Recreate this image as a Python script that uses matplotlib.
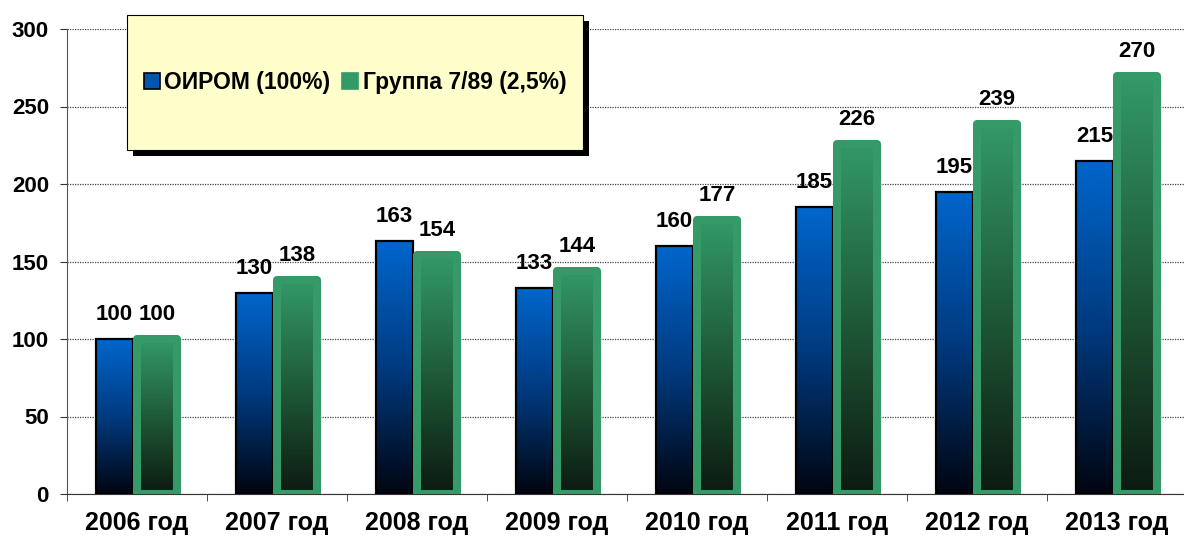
import numpy as np
import matplotlib
matplotlib.use("Agg")
import matplotlib.pyplot as plt
from matplotlib.colors import LinearSegmentedColormap
from matplotlib.patches import Rectangle, Patch

plt.rcParams["font.family"] = ["Liberation Sans", "DejaVu Sans"]
plt.rcParams["font.weight"] = "bold"

years = ["2006 год", "2007 год", "2008 год", "2009 год",
         "2010 год", "2011 год", "2012 год", "2013 год"]
oirom = [100, 130, 163, 133, 160, 185, 195, 215]
group = [100, 138, 154, 144, 177, 226, 239, 270]
series_names = ["ОИРОМ (100%)", "Группа 7/89 (2,5%)"]

BLUE_TOP, BLUE_BOT = "#0066CC", "#000510"
GREEN_EDGE, GREEN_TOP, GREEN_BOT = "#359A68", "#339966", "#0C1A10"

fig = plt.figure(figsize=(11.84, 5.37), dpi=100)
ax = fig.add_axes([67 / 1184, 1 - 494 / 537, 1120 / 1184, 465 / 537])

x = np.arange(len(years))
blue_cmap = LinearSegmentedColormap.from_list("b", [BLUE_BOT, "#003A80", BLUE_TOP])
green_cmap = LinearSegmentedColormap.from_list("g", [GREEN_BOT, "#1F5A38", GREEN_TOP])
grad = np.linspace(0, 1, 256).reshape(-1, 1)

bw, gw = 0.265, 0.285
blue_bars = ax.bar(x - 0.16, oirom, bw, facecolor="none", edgecolor="black",
                   linewidth=1.6, zorder=4)
green_bars = ax.bar(x + 0.143, group, gw, facecolor="none", edgecolor=GREEN_EDGE,
                    linewidth=5.8, joinstyle="round", zorder=6)

# gradient fills clipped to each bar
for bars, cmap, z in [(blue_bars, blue_cmap, 3), (green_bars, green_cmap, 5)]:
    for b in bars:
        x0, h, w = b.get_x(), b.get_height(), b.get_width()
        im = ax.imshow(grad, extent=(x0, x0 + w, 0, h), origin="lower",
                       aspect="auto", cmap=cmap, zorder=z)
        im.set_clip_path(b)

for xi, v in zip(x, oirom):
    ax.annotate(f"{v}", (xi - 0.16, v), xytext=(0, 10), textcoords="offset points",
                ha="center", va="bottom", fontsize=16, fontweight="bold", zorder=2)
for xi, v in zip(x, group):
    ax.annotate(f"{v}", (xi + 0.143, v), xytext=(0, 10), textcoords="offset points",
                ha="center", va="bottom", fontsize=16, fontweight="bold", zorder=7)

ax.set_xlim(-0.5, len(years) - 0.5)
ax.set_ylim(0, 300)
ax.set_yticks(range(0, 301, 50))
ax.yaxis.grid(True, color="#444444", linestyle=(0, (1, 1)), linewidth=0.9)
ax.set_axisbelow(True)

ax.set_xticks(x)
ax.set_xticklabels(years)
ax.set_xticks(np.arange(-0.5, len(years)), minor=True)
ax.tick_params(axis="x", which="major", length=0, pad=12, labelsize=18)
ax.tick_params(axis="x", which="minor", length=5, color="#333333")
ax.tick_params(axis="y", length=5, pad=8, labelsize=16, color="#333333")
for lab in ax.get_xticklabels() + ax.get_yticklabels():
    lab.set_fontweight("bold")

for s in ["top", "right"]:
    ax.spines[s].set_visible(False)
ax.spines["left"].set_color("#555555")
ax.spines["bottom"].set_color("#333333")

# legend box with shadow
lx, ly, lw, lh = 127 / 1184, 1 - 150 / 537, 456 / 1184, 135 / 537
fig.patches.append(Rectangle((lx + 6 / 1184, ly - 6 / 537), lw, lh, transform=fig.transFigure,
                             facecolor="black", edgecolor="none", zorder=8))
fig.patches.append(Rectangle((lx, ly), lw, lh, transform=fig.transFigure,
                             facecolor="#FFFFCC", edgecolor="black", linewidth=0.8, zorder=9))
handles = [Patch(facecolor="#0055B0", edgecolor="black", linewidth=1.2),
           Patch(facecolor=GREEN_TOP, edgecolor=GREEN_EDGE, linewidth=1.2)]
leg = fig.legend(handles, series_names, loc="center", ncol=2, frameon=False,
                 bbox_to_anchor=(lx + lw / 2, ly + lh / 2), bbox_transform=fig.transFigure,
                 handlelength=0.7, handleheight=0.7, handletextpad=0.2,
                 columnspacing=0.5, prop={"size": 16.5, "weight": "bold"})
leg.set_zorder(10)

fig.savefig("out.png", dpi=100)
